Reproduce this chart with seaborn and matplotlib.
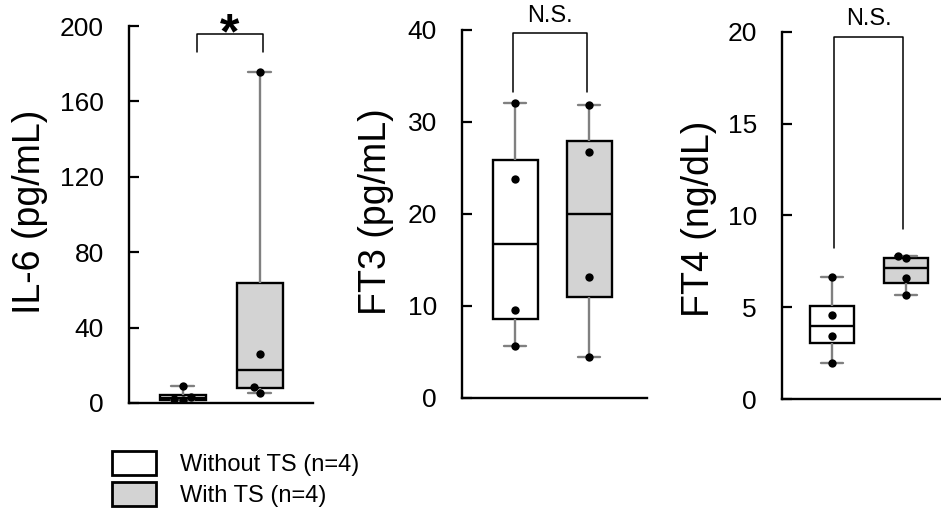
import numpy as np
import pandas as pd
import matplotlib
matplotlib.use("Agg")
import matplotlib.pyplot as plt
from matplotlib.patches import Patch
import seaborn as sns

# values (4 patients per group)
groups = ['Without TS (n=4)', 'With TS (n=4)']
il6_without = [1.4, 1.9, 3.0, 9.0]
il6_with = [5.5, 8.7, 26.0, 175.6]
ft3_without = [5.7, 9.6, 23.8, 32.1]
ft3_with = [4.5, 13.2, 26.7, 31.8]
ft4_without = [1.98, 3.43, 4.57, 6.62]
ft4_with = [5.66, 6.57, 7.66, 7.78]

ylabels = ['IL-6 (pg/mL)', 'FT3 (pg/mL)', 'FT4 (ng/dL)']
yticks = [np.arange(0, 201, 40), np.arange(0, 41, 10), np.arange(0, 21, 5)]
sig_text = ['*', 'N.S.', 'N.S.']

sns.set_style('ticks')
plt.rcParams['font.family'] = ['Liberation Sans', 'DejaVu Sans']
for k in ['text.color', 'axes.labelcolor', 'xtick.color', 'ytick.color', 'axes.edgecolor']:
    plt.rcParams[k] = 'black'

fill = ['white', '#d3d3d3']
grey = '#808080'

fig = plt.figure(figsize=(9.41, 5.12), dpi=100)
# axes rectangles, figure fractions
rects = [[0.1371, 0.2129, 0.1955, 0.7363],
         [0.4910, 0.2227, 0.1966, 0.7188],
         [0.8310, 0.2207, 0.1690, 0.7174]]
xlims = [(-0.70, 1.69), (-0.72, 1.78), (-0.68, 1.47)]
label_pos = [(-0.44, 0.507), (-0.37, 0.505), (-0.41, 0.49)]
# bracket: x left, x right, y top, y left leg end, y right leg end, text y, text size
brackets = [(0.18, 1.04, 196, 186, 186, 195, 36),
            (-0.03, 0.97, 39.7, 33.3, 33.3, 40.3, 17),
            (0.03, 0.96, 19.7, 8.2, 9.25, 20.1, 17)]

panels = [(il6_without, il6_with), (ft3_without, ft3_with), (ft4_without, ft4_with)]

for i, (a, b) in enumerate(panels):
    ax = fig.add_axes(rects[i])
    df = pd.DataFrame({'group': [groups[0]] * len(a) + [groups[1]] * len(b),
                       'value': a + b})
    sns.boxplot(data=df, x='group', y='value', hue='group', palette=fill,
                width=0.6, whis=(0, 100), linecolor='black', linewidth=1.7,
                whiskerprops={'color': grey}, capprops={'color': grey},
                showfliers=False, legend=False, ax=ax)
    sns.swarmplot(data=df, x='group', y='value', color='black', size=6, ax=ax)

    ax.set_xlim(*xlims[i])
    ax.set_ylim(yticks[i][0], yticks[i][-1])
    ax.set_yticks(yticks[i])
    ax.set_xticks([])
    ax.set_xlabel('')
    ax.set_ylabel(ylabels[i], fontsize=27)
    ax.yaxis.set_label_coords(*label_pos[i])
    ax.tick_params(axis='y', direction='in', length=7, width=1.6, labelsize=19, pad=18)
    for s in ['top', 'right']:
        ax.spines[s].set_visible(False)
    for s in ['left', 'bottom']:
        ax.spines[s].set_linewidth(1.7)

    x1, x2, ytop, yl, yr, ty, fs = brackets[i]
    ax.plot([x1, x1, x2, x2], [yl, ytop, ytop, yr], color='black', lw=1.1, clip_on=False)
    ax.text((x1 + x2) / 2, ty, sig_text[i], ha='center', va='bottom' if i else 'center',
            fontsize=fs, fontweight='normal' if i else 'bold', clip_on=False)

handles = [Patch(facecolor=fill[0], edgecolor='black', linewidth=2),
           Patch(facecolor=fill[1], edgecolor='black', linewidth=2)]
fig.legend(handles, groups, loc='upper left', bbox_to_anchor=(112 / 941, 1 - 451 / 512),
           frameon=False, fontsize=17, handlelength=1.85, handleheight=1.2,
           labelspacing=0.25, handletextpad=1.05, borderpad=0, borderaxespad=0)

fig.savefig('out.png', dpi=100)
